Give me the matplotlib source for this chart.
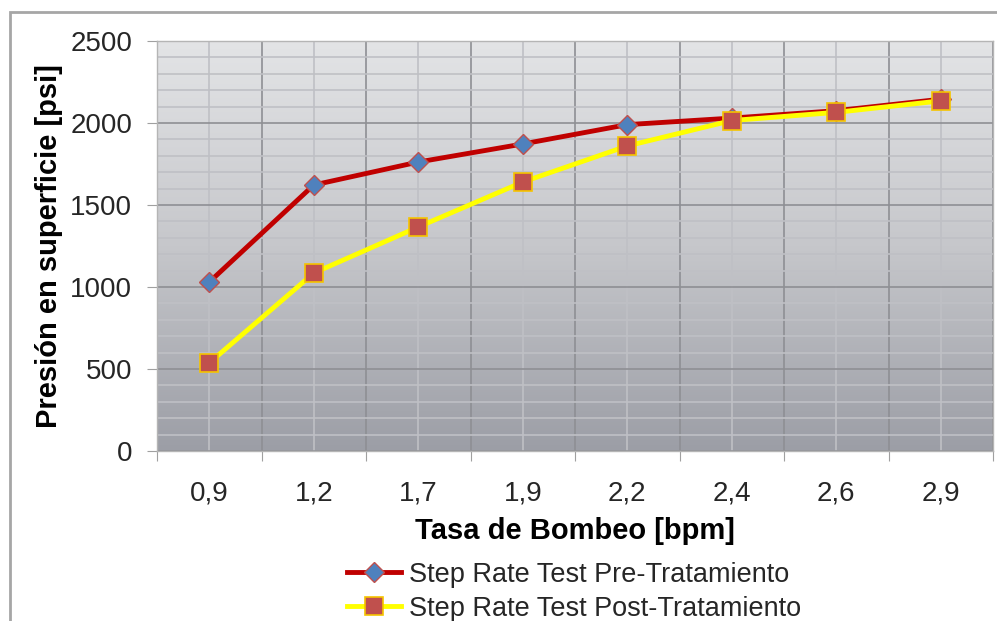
import numpy as np
import matplotlib
matplotlib.use('Agg')
from matplotlib import pyplot as plt, patches

# Data
rates = ['0,9', '1,2', '1,7', '1,9', '2,2', '2,4', '2,6', '2,9']
pre_treatment = [1030, 1622, 1762, 1872, 1990, 2030, 2075, 2145]
post_treatment = [537, 1085, 1366, 1640, 1860, 2015, 2065, 2135]

pre_label = 'Step Rate Test Pre-Tratamiento'
post_label = 'Step Rate Test Post-Tratamiento'

plt.rcParams['font.family'] = ['Liberation Sans', 'DejaVu Sans']
text_color = '#262626'

# Figure / axes placement (pixels of a 997x621 canvas)
W, H = 997, 621
fig = plt.figure(figsize=(W / 100, H / 100), dpi=100)
left, right, top, bottom = 157, 993, 41, 451
ax = fig.add_axes([left / W, 1 - bottom / H, (right - left) / W, (bottom - top) / H])

# outer chart border, cropped on the right and bottom
fig.patches.append(patches.Rectangle((10 / W, -0.05), 1.1, 1 - 12 / H + 0.05,
                                     transform=fig.transFigure, fill=False,
                                     edgecolor='#a6a6a6', linewidth=2))

x = np.arange(len(rates))

# plot area gradient, light on top, dark at the bottom
grad = np.linspace(0, 1, 256).reshape(-1, 1)
cmap = matplotlib.colors.LinearSegmentedColormap.from_list(
    'bg', ['#e3e4e6', '#c6c7cb', '#9c9ea6'])
ax.imshow(grad, extent=[-0.5, len(rates) - 0.5, 0, 2500], aspect='auto',
          cmap=cmap, zorder=0, origin='upper')
ax.set_xlim(-0.5, len(rates) - 0.5)
ax.set_ylim(0, 2500)

# ticks and grid
ax.set_xticks(np.arange(-0.5, len(rates)), labels=[''] * (len(rates) + 1))
ax.set_xticks(x, labels=rates, minor=True)
ax.tick_params(axis='x', which='major', length=7, color='#a0a0a0', direction='out')
ax.tick_params(axis='x', which='minor', length=0, pad=21, labelsize=20, labelcolor=text_color)

ax.set_yticks(np.arange(0, 2501, 500))
ax.set_yticks(np.arange(0, 2501, 100), minor=True)
ax.tick_params(axis='y', which='major', length=7, color='#a0a0a0', pad=11,
               labelsize=20, labelcolor=text_color)
ax.tick_params(axis='y', which='minor', length=0)

ax.set_axisbelow(True)
ax.grid(which='major', color='#8e8f94', linewidth=1.2)
ax.grid(which='minor', color='#bfc0c5', linewidth=1.2)

for side in ['top', 'right', 'left', 'bottom']:
    ax.spines[side].set_color('#b5b5b5')
    ax.spines[side].set_linewidth(1)

# series
ax.plot(x, pre_treatment, color='#c00000', linewidth=3.5, marker='D',
        markersize=10, markerfacecolor='#4f81bd', markeredgecolor='#c0504d',
        markeredgewidth=1, label=pre_label, zorder=3)
ax.plot(x, post_treatment, color='#ffff00', linewidth=3.5, marker='s',
        markersize=13, markerfacecolor='#c0504d', markeredgecolor='#f5c400',
        markeredgewidth=1.2, label=post_label, zorder=4)

ax.set_xlabel('Tasa de Bombeo [bpm]', fontsize=21, fontweight='bold',
              color='black', labelpad=8)
ax.set_ylabel('Presión en superficie [psi]', fontsize=21, fontweight='bold',
              color='black', labelpad=5)

ax.legend(loc='upper center', bbox_to_anchor=(574 / W, 1 - 548 / H),
          bbox_transform=fig.transFigure, frameon=False, fontsize=19.5,
          handlelength=2.0, handletextpad=0.3, labelspacing=0.3,
          borderpad=0, labelcolor=text_color)

fig.savefig('out.png', dpi=100)
